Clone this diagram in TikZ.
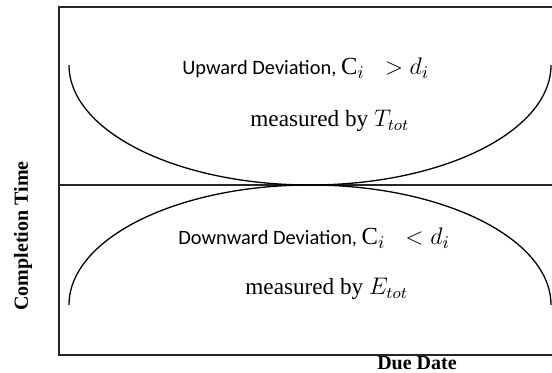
\documentclass[tikz,border=0pt]{standalone}
\usepackage{amsmath,amssymb}
\usepackage{fontspec}
\setmainfont{Liberation Serif}
\newfontfamily\calfont{Carlito}
\usepackage{xcolor}
\usetikzlibrary{positioning,calc}

\newcommand{\devmath}[1]{{\rmfamily\fontsize{12.3}{14}\selectfont$#1$}}

\begin{document}
\begin{tikzpicture}[
  x=0.5pt, y=-0.5pt,
  axisline/.style={draw, line width=0.6pt, black!85},
  devcurve/.style={draw, line width=0.65pt},
  devtext/.style={inner sep=0pt, anchor=base west,
                  font=\calfont\fontsize{10.2}{12}\selectfont},
  meastext/.style={inner sep=0pt, anchor=base west,
                   font=\fontsize{11.6}{14}\selectfont},
  axlabel/.style={inner sep=0pt, font=\bfseries\fontsize{10}{12}\selectfont}
]
  \useasboundingbox (0,0) rectangle (552,373);

  % frame
  \coordinate (tl) at (59,7);
  \coordinate (tr) at (552,7);
  \coordinate (ml) at (59,185);
  \coordinate (mr) at (552,185);
  \coordinate (bl) at (59,355);
  \coordinate (br) at (552,355);
  \draw[axisline] (tr) -- (tl) -- (bl) -- (br);
  \draw[axisline] (ml) -- (mr);

  % deviation curves
  \draw[devcurve] (69,65) arc[start angle=180, end angle=0,
                              x radius=241, y radius=120];
  \draw[devcurve] (69,305) arc[start angle=180, end angle=360,
                               x radius=241, y radius=120];

  % texts
  \node[devtext] (up) at (182,75)
    {Upward Deviation, \devmath{\mathrm{C}_i\;\; > d_i}};
  \node[meastext] (upm) at (250,127) {measured by $T_{tot}$};
  \node[devtext] (down) at (178,245)
    {Downward Deviation, \devmath{\mathrm{C}_i\;\; < d_i}};
  \node[meastext] (downm) at (245,295) {measured by $E_{tot}$};

  % axis labels
  \node[axlabel, anchor=base] (due) at (417,370) {Due Date};
  \node[axlabel, rotate=90] (comp) at (23,236) {Completion Time};
\end{tikzpicture}
\end{document}
